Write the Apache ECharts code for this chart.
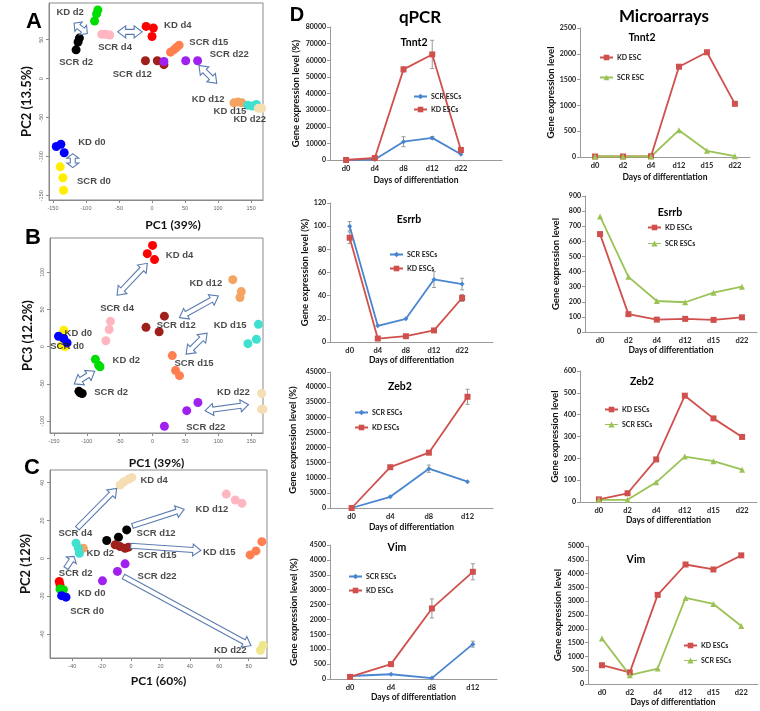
<!DOCTYPE html>
<html><head><meta charset="utf-8">
<script src="https://cdn.jsdelivr.net/npm/echarts@6/dist/echarts.min.js"></script>
<style>html,body{margin:0;padding:0;background:#fff}#c{width:760px;height:711px}</style>
</head><body><div id="c"></div>
<script>
// ================= DATA =================
// ---- PCA panel A (PC1 vs PC2) ----
const pcaA = {
  'KD d0': [[-145,-87],[-138,-84],[-133,-95]],
  'SCR d0': [[-139,-113],[-135,-127],[-134,-143]],
  'KD d2': [[-82,88],[-84,83],[-87,74]],
  'SCR d2': [[-110,52],[-112,47],[-115,37]],
  'KD d4': [[-9,67],[2,65],[0,54]],
  'SCR d4': [[-76,57],[-70,57],[-64,56]],
  'SCR d12': [[-10,23],[8,23],[18,18]],
  'KD d12': [[124,-31],[130,-30],[136,-31]],
  'SCR d15': [[28,34],[33,37],[37,40],[41,43]],
  'KD d15': [[145,-34],[152,-35],[158,-33]],
  'SCR d22': [[18,22],[51,23],[69,23]],
  'KD d22': [[161,-38],[166,-38]]
};
const labelsA = [['KD d2',-124,85],['SCR d4',-56,40],['KD d4',39,68],['SCR d15',86,47],['SCR d22',117,31],
  ['SCR d2',-115,21],['SCR d12',-30,6],['KD d12',85,-27],['KD d15',118,-42],['KD d22',148,-52],
  ['KD d0',-91,-82],['SCR d0',-88,-132]];
const arrowsA = [[-118,71,-98,58,1],[-52,60,-15,60,1],[71,17,98,-6,1],[-120,-96,-120,-114,1]];

// ---- PCA panel B (PC1 vs PC3) ----
const pcaB = {
  'KD d4': [[0,136],[-8,125],[3,117]],
  'KD d12': [[122,90],[135,74],[133,66]],
  'KD d15': [[161,30],[145,4],[158,10]],
  'SCR d4': [[-64,34],[-66,23],[-71,8]],
  'SCR d12': [[-10,26],[18,41],[10,20]],
  'SCR d0': [[-135,22],[-138,2],[-133,0]],
  'KD d0': [[-143,14],[-135,11],[-130,5]],
  'KD d2': [[-87,-17],[-82,-25],[-80,-27]],
  'SCR d2': [[-112,-60],[-107,-63],[-110,-62]],
  'SCR d15': [[30,-12],[35,-32],[41,-39]],
  'SCR d22': [[69,-75],[52,-86],[18,-107]],
  'KD d22': [[166,-63],[166,-84],[168,-84]]
};
const labelsB = [['KD d4',41,123],['KD d12',81,85],['SCR d4',-54,51],['SCR d12',36,29],['KD d15',118,28],
  ['KD d0',-113,18],['SCR d0',-130,0],['KD d2',-40,-19],['SCR d15',63,-23],['SCR d2',-63,-62],
  ['KD d22',123,-62],['SCR d22',81,-109]];
const arrowsB = [[-54,69,-8,112,1],[41,39,100,68,1],[51,-10,83,18,1],[-119,-50,-88,-33,1],[80,-86,146,-78,1]];

// ---- PCA panel C (PC1 vs PC2) ----
const pcaC = {
  'KD d4': [[-7.5,38.8],[-4.8,40.5],[-1.8,41.8],[0.5,42.8]],
  'KD d12': [[64.8,34],[70.9,30.9],[75.5,29.1]],
  'KD d15': [[89,8.9],[85,4],[81,1.9]],
  'KD d22': [[89.8,-45.8],[88,-48.4],[88,-53]],
  'KD d2': [[-32.5,5.4]],
  'SCR d4': [[-37.5,8.1],[-35.9,5.4],[-35.2,2.8]],
  'SCR d12': [[-16.6,9.5],[-8.6,11.2],[-3,15.1]],
  'SCR d15': [[-10.9,7.2],[-7.5,6.3],[-4.1,5.4],[-1.8,6]],
  'SCR d22': [[-19.5,-11.8],[-9.3,-6.8],[-4.1,-2.8]],
  'SCR d2': [[-48.9,-12.1],[-48.4,-13.9]],
  'KD d0': [[-48.4,-16.1],[-46.1,-16.5]],
  'SCR d0': [[-47.3,-19.6],[-44.3,-20.4]]
};
const labelsC = [['KD d4',15.7,41],['KD d12',55,26],['SCR d12',17,13.3],['SCR d4',-38,13.3],['KD d2',-21,2.5],
  ['SCR d15',17.7,1.4],['KD d15',60,3.2],['SCR d2',-37.7,-7.7],['SCR d22',17.7,-9.5],['KD d0',-26.8,-18.6],
  ['SCR d0',-30,-27.9],['KD d22',67.5,-48.4]];
const arrowsC = [[-36.6,16,-9.8,37,0],[0.9,17.2,36.1,26,0],[-0.2,6.7,47.5,4.2,0],[-5.2,-9.5,81.6,-46,0],[-44.3,-5.1,-38.9,1.1,0]];

const pcaTicksAB_x = [-150,-100,-50,0,50,100,150];
const pcaTicksA_y = [-150,-100,-50,0,50];
const pcaTicksB_y = [-100,-50,0,50,100];
const pcaTicksC_x = [-40,-20,0,20,40,60,80];
const pcaTicksC_y = [-40,-20,0,20,40];

// ---- qPCR / microarray line charts ----
const catsQ5 = ['d0','d4','d8','d12','d22'];
const catsQ4 = ['d0','d4','d8','d12'];
const catsM6 = ['d0','d2','d4','d12','d15','d22'];

const tnnt2Q_SCR = [0, 300, 11000, 13300, 3500];
const tnnt2Q_KD = [0, 1200, 54500, 63500, 6000];
const tnnt2Q_SCRerr = [0, 0, 3000, 800, 0];
const tnnt2Q_KDerr = [0, 500, 1500, 8500, 1000];

const esrrbQ_SCR = [100, 14, 20, 54, 50];
const esrrbQ_KD = [90, 3, 5, 10, 38];
const esrrbQ_SCRerr = [4, 0, 0, 7, 5];
const esrrbQ_KDerr = [5, 0, 0, 0, 3];

const zeb2Q_SCR = [0, 3700, 13000, 8700];
const zeb2Q_KD = [0, 13500, 18300, 36800];
const zeb2Q_SCRerr = [0, 0, 1200, 0];
const zeb2Q_KDerr = [0, 0, 0, 2500];

const vimQ_SCR = [100, 160, 30, 1170];
const vimQ_KD = [70, 500, 2370, 3600];
const vimQ_SCRerr = [50, 0, 0, 100];
const vimQ_KDerr = [0, 0, 320, 270];

const tnnt2M_KD = [10, 10, 15, 1750, 2030, 1030];
const tnnt2M_SCR = [10, 10, 10, 520, 120, 15];
const esrrbM_KD = [648, 118, 82, 87, 80, 97];
const esrrbM_SCR = [765, 365, 205, 197, 260, 300];
const zeb2M_KD = [12, 40, 195, 487, 383, 298];
const zeb2M_SCR = [10, 10, 90, 208, 187, 148];
const vimM_KD = [680, 420, 3230, 4330, 4150, 4660];
const vimM_SCR = [1650, 320, 560, 3120, 2900, 2100];

// y-axis ticks: [max, interval]
const yTnnt2Q = [80000, 10000], yEsrrbQ = [120, 20], yZeb2Q = [45000, 5000], yVimQ = [4500, 500];
const yTnnt2M = [2500, 500], yEsrrbM = [900, 100], yZeb2M = [600, 100], yVimM = [5000, 500];

// ================= STYLE =================
const FD = 'Lato, "Liberation Sans", sans-serif';
const FR = '"Liberation Sans", Arial, sans-serif';
const BLUE = '#4a86d0', RED = '#d0504d', GREEN = '#9bc255', ARROW = '#5a7bb0';
const palAB = {'KD d0':'#0000ff','SCR d0':'#ffee00','KD d2':'#00dd00','SCR d2':'#000000','KD d4':'#ff0000',
  'SCR d4':'#ffb6c1','SCR d12':'#a0201c','KD d12':'#f4a460','SCR d15':'#ff7f50','KD d15':'#40e0d0',
  'SCR d22':'#a020f0','KD d22':'#f5deb3'};
const palC = {'KD d4':'#f5deb3','KD d12':'#ffb6c1','KD d15':'#ff7f50','KD d22':'#f0e68c','KD d2':'#f4a460',
  'SCR d4':'#40e0d0','SCR d12':'#000000','SCR d15':'#a0201c','SCR d22':'#a020f0','SCR d2':'#ff0000',
  'KD d0':'#00dd00','SCR d0':'#0000ff'};
// legend icon: short line with a triangle marker (13 x 7 box)
const TRI_ICON = 'path://M0,3 L13,3 L13,4 L0,4 Z M6.5,0.3 L9.6,6.5 L3.4,6.5 Z';

const grids = [], xAxes = [], yAxes = [], series = [], legends = [];

function arrowRender(params, api) {
  const p1 = api.coord([api.value(0), api.value(1)]);
  const p2 = api.coord([api.value(2), api.value(3)]);
  const dbl = api.value(4) === 1;
  const dx = p2[0]-p1[0], dy = p2[1]-p1[1], L = Math.hypot(dx, dy);
  const ux = dx/L, uy = dy/L, nx = -uy, ny = ux;
  const w = 2.5, h = 6, hl = Math.min(8, L/3);
  const P = (p, a, b) => [p[0]+ux*a+nx*b, p[1]+uy*a+ny*b];
  const pts = dbl
    ? [p1, P(p1,hl,h), P(p1,hl,w), P(p2,-hl,w), P(p2,-hl,h), p2, P(p2,-hl,-h), P(p2,-hl,-w), P(p1,hl,-w), P(p1,hl,-h)]
    : [P(p1,0,w), P(p2,-hl,w), P(p2,-hl,h), p2, P(p2,-hl,-h), P(p2,-hl,-w), P(p1,0,-w)];
  return {type:'polygon', shape:{points:pts}, style:{fill:'#fff', stroke:ARROW, lineWidth:1.1}};
}

function addPCA(cfg) {
  const gi = grids.length;
  grids.push({left:cfg.box[0], top:cfg.box[1], width:cfg.box[2], height:cfg.box[3], show:true,
    borderColor:'#8a8a8a', borderWidth:1, containLabel:false});
  const common = {gridIndex:gi, type:'value', splitLine:{show:false}, nameLocation:'middle',
    axisLine:{show:true, onZero:false, lineStyle:{color:'#8a8a8a'}}};
  xAxes.push(Object.assign({}, common, {min:cfg.xr[0], max:cfg.xr[1], name:cfg.xname, nameGap:cfg.xgap,
    nameTextStyle:{fontFamily:FD, fontWeight:'bold', fontSize:12, color:'#111', padding:[0,0,0,cfg.xshift || 0]},
    axisTick:{show:true, customValues:cfg.xt, length:3, lineStyle:{color:'#8a8a8a'}},
    axisLabel:{customValues:cfg.xt, fontSize:5.5, fontFamily:FR, color:'#666', margin:5, formatter:v=>String(v)}}));
  yAxes.push(Object.assign({}, common, {min:cfg.yr[0], max:cfg.yr[1], name:cfg.yname, nameGap:cfg.ygap,
    nameRotate:90, nameTextStyle:{fontFamily:FD, fontWeight:'bold', fontSize:13, color:'#111'},
    axisTick:{show:true, customValues:cfg.yt, length:3, lineStyle:{color:'#8a8a8a'}},
    axisLabel:{customValues:cfg.yt, fontSize:5.5, fontFamily:FR, color:'#666', margin:5, rotate:90, formatter:v=>String(v)}}));
  Object.keys(cfg.pts).forEach(g => {
    series.push({type:'scatter', name:g, xAxisIndex:gi, yAxisIndex:gi, data:cfg.pts[g], symbolSize:9,
      itemStyle:{color:cfg.pal[g], opacity:1}, z:2, silent:true});
  });
  series.push({type:'custom', xAxisIndex:gi, yAxisIndex:gi, data:cfg.arrows, renderItem:arrowRender,
    encode:{x:[0,2], y:[1,3]}, z:3, silent:true});
  series.push({type:'scatter', xAxisIndex:gi, yAxisIndex:gi, symbolSize:1, z:4, silent:true,
    itemStyle:{color:'rgba(0,0,0,0)'},
    data:cfg.labels.map(l => ({name:l[0], value:[l[1], l[2]]})),
    label:{show:true, position:'inside', formatter:'{b}', fontFamily:FR, fontWeight:'bold', fontSize:9.5, color:'#1a1a1a'}});
}

function addLine(cfg) {
  const gi = grids.length;
  grids.push({left:cfg.box[0], top:cfg.box[1], width:cfg.box[2], height:cfg.box[3], show:false});
  const idx = cfg.cats.map((c,i)=>i);
  xAxes.push({gridIndex:gi, type:'value', min:cfg.xr[0], max:cfg.xr[1], splitLine:{show:false},
    axisLine:{show:true, onZero:false, lineStyle:{color:'#9a9a9a'}}, axisTick:{show:false},
    axisLabel:{customValues:idx, formatter:v=>cfg.cats[Math.round(v)], fontFamily:FD, fontWeight:'bold', fontSize:7.5, color:'#222', margin:5},
    name:'Days of differentiation', nameLocation:'middle', nameGap:cfg.xgap,
    nameTextStyle:{fontFamily:FD, fontWeight:'bold', fontSize:8.5, color:'#111'}});
  yAxes.push({gridIndex:gi, type:'value', min:0, max:cfg.y[0], interval:cfg.y[1], splitLine:{show:false},
    axisLine:{show:true, onZero:false, lineStyle:{color:'#9a9a9a'}},
    axisTick:{show:true, length:3, lineStyle:{color:'#9a9a9a'}},
    axisLabel:{fontFamily:FD, fontWeight:'bold', fontSize:7, color:'#222', margin:4, formatter:v=>String(v)},
    name:cfg.yname, nameLocation:'middle', nameRotate:90, nameGap:cfg.ygap,
    nameTextStyle:{fontFamily:FD, fontWeight:'bold', fontSize:9.5, color:'#111'}});
  cfg.series.forEach(s => {
    if (s.err) {
      series.push({type:'custom', xAxisIndex:gi, yAxisIndex:gi, z:2, silent:true,
        data:s.vals.map((v,i)=>[i, v, s.err[i]]).filter(d=>d[2]>0),
        renderItem:(p, api) => {
          const x = api.value(0), v = api.value(1), e = api.value(2);
          const a = api.coord([x, v+e]), b = api.coord([x, v-e]);
          const st = {stroke:'#999', lineWidth:1};
          return {type:'group', children:[
            {type:'line', shape:{x1:a[0],y1:a[1],x2:b[0],y2:b[1]}, style:st},
            {type:'line', shape:{x1:a[0]-2,y1:a[1],x2:a[0]+2,y2:a[1]}, style:st},
            {type:'line', shape:{x1:b[0]-2,y1:b[1],x2:b[0]+2,y2:b[1]}, style:st}]};
        }});
    }
    series.push({type:'line', name:s.name, xAxisIndex:gi, yAxisIndex:gi, z:3, silent:true,
      data:s.vals.map((v,i)=>[i,v]), symbol:s.symbol, symbolSize:s.size, showSymbol:true,
      lineStyle:{color:s.color, width:1.8}, itemStyle:{color:s.color}});
  });
  legends.push({left:cfg.leg[0], top:cfg.leg[1], orient:'vertical', itemWidth:13, itemHeight:7, itemGap:cfg.leg[2],
    selectedMode:false, padding:0, data:cfg.legData,
    textStyle:{fontFamily:FD, fontWeight:'bold', fontSize:7, color:'#222', padding:[0,0,0,-1]}});
}

// ---- PCA panels ----
addPCA({box:[49,3,214,197], xr:[-156,168], yr:[-155.5,97], xt:pcaTicksAB_x, yt:pcaTicksA_y, xshift:34,
  xname:'PC1 (39%)', yname:'PC2 (13.5%)', xgap:19, ygap:16, pts:pcaA, pal:palAB, labels:labelsA, arrows:arrowsA});
addPCA({box:[50,238,213,195], xr:[-156,168], yr:[-116,146], xt:pcaTicksAB_x, yt:pcaTicksB_y,
  xname:'PC1 (39%)', yname:'PC3 (12.2%)', xgap:24, ygap:16, pts:pcaB, pal:palAB, labels:labelsB, arrows:arrowsB});
addPCA({box:[50,470,217,188], xr:[-55.2,92.5], yr:[-52.5,46.7], xt:pcaTicksC_x, yt:pcaTicksC_y,
  xname:'PC1 (60%)', yname:'PC2 (12%)', xgap:17, ygap:18, pts:pcaC, pal:palC, labels:labelsC, arrows:arrowsC});

// ---- qPCR ----
const qSer = (scr, kd, se, ke) => [
  {name:'SCR ESCs', vals:scr, err:se, color:BLUE, symbol:'diamond', size:5},
  {name:'KD ESCs', vals:kd, err:ke, color:RED, symbol:'rect', size:6}];
const mSer = (kd, scr, nk, ns) => [
  {name:nk, vals:kd, color:RED, symbol:'rect', size:6},
  {name:ns, vals:scr, color:GREEN, symbol:'triangle', size:6}];
const qLeg = ['SCR ESCs','KD ESCs'];
const mLeg = [{name:'KD ESCs'}, {name:'SCR ESCs', icon:TRI_ICON, itemStyle:{color:GREEN, borderWidth:0}}];

addLine({box:[330,27,172,133], xr:[-0.56,5.43], y:yTnnt2Q, cats:catsQ5, yname:'Gene expression level (%)',
  xgap:16, ygap:29, series:qSer(tnnt2Q_SCR, tnnt2Q_KD, tnnt2Q_SCRerr, tnnt2Q_KDerr), leg:[413,93,6], legData:qLeg});
addLine({box:[330,203,163,139], xr:[-0.7,5.1], y:yEsrrbQ, cats:catsQ5, yname:'Gene expression level (%)',
  xgap:12, ygap:17, series:qSer(esrrbQ_SCR, esrrbQ_KD, esrrbQ_SCRerr, esrrbQ_KDerr), leg:[389,251,7], legData:qLeg});
addLine({box:[330,372,163,136], xr:[-0.56,3.66], y:yZeb2Q, cats:catsQ4, yname:'Gene expression level (%)',
  xgap:15, ygap:32, series:qSer(zeb2Q_SCR, zeb2Q_KD, zeb2Q_SCRerr, zeb2Q_KDerr), leg:[354,409,8], legData:qLeg});
addLine({box:[330,545,167,134], xr:[-0.49,3.59], y:yVimQ, cats:catsQ4, yname:'Gene expression level (%)',
  xgap:14, ygap:31, series:qSer(vimQ_SCR, vimQ_KD, vimQ_SCRerr, vimQ_KDerr), leg:[348,573,7], legData:qLeg});

// ---- Microarrays ----
addLine({box:[580,28,170,129], xr:[-0.54,5.54], y:yTnnt2M, cats:catsM6, yname:'Gene expression level',
  xgap:16, ygap:24, series:mSer(tnnt2M_KD, tnnt2M_SCR, 'KD ESC', 'SCR ESC'), leg:[599,54,13], legData:['KD ESC','SCR ESC']});
addLine({box:[585,196,172,136], xr:[-0.53,5.53], y:yEsrrbM, cats:catsM6, yname:'Gene expression level',
  xgap:13, ygap:24, series:mSer(esrrbM_KD, esrrbM_SCR, 'KD ESCs', 'SCR ESCs'), leg:[647,224,9], legData:mLeg});
addLine({box:[580,371,177,131], xr:[-0.66,5.52], y:yZeb2M, cats:catsM6, yname:'Gene expression level',
  xgap:11, ygap:19, series:mSer(zeb2M_KD, zeb2M_SCR, 'KD ESCs', 'SCR ESCs'), leg:[604,406,8], legData:mLeg});
addLine({box:[588,546,170,138], xr:[-0.5,5.6], y:yVimM, cats:catsM6, yname:'Gene expression level',
  xgap:13, ygap:25, series:mSer(vimM_KD, vimM_SCR, 'KD ESCs', 'SCR ESCs'), leg:[683,642,8], legData:mLeg});

const T = (text, x, y, size, fam) => ({type:'text', x, y, silent:true,
  style:{text, align:'center', verticalAlign:'middle', font:'bold ' + size + 'px ' + (fam || FD), fill:'#000'}});
const graphics = [
  T('A', 34, 22, 22, FR), T('B', 33, 238, 22, FR), T('C', 32, 468, 22, FR), T('D', 297, 15, 20, FR),
  T('qPCR', 420, 18, 17), T('Microarrays', 664, 17, 17),
  T('Tnnt2', 414, 43, 10.5), T('Tnnt2', 642, 38, 10.5),
  T('Esrrb', 409, 220, 10.5), T('Esrrb', 670, 213, 10.5),
  T('Zeb2', 400, 387, 10.5), T('Zeb2', 642, 382, 10.5),
  T('Vim', 397, 548, 10.5), T('Vim', 636, 560, 10.5)
];

const chart = echarts.init(document.getElementById('c'), null, {renderer:'canvas'});
chart.setOption({
  backgroundColor:'#ffffff', animation:false,
  grid:grids, xAxis:xAxes, yAxis:yAxes, series:series, legend:legends, graphic:graphics
});
</script></body></html>
